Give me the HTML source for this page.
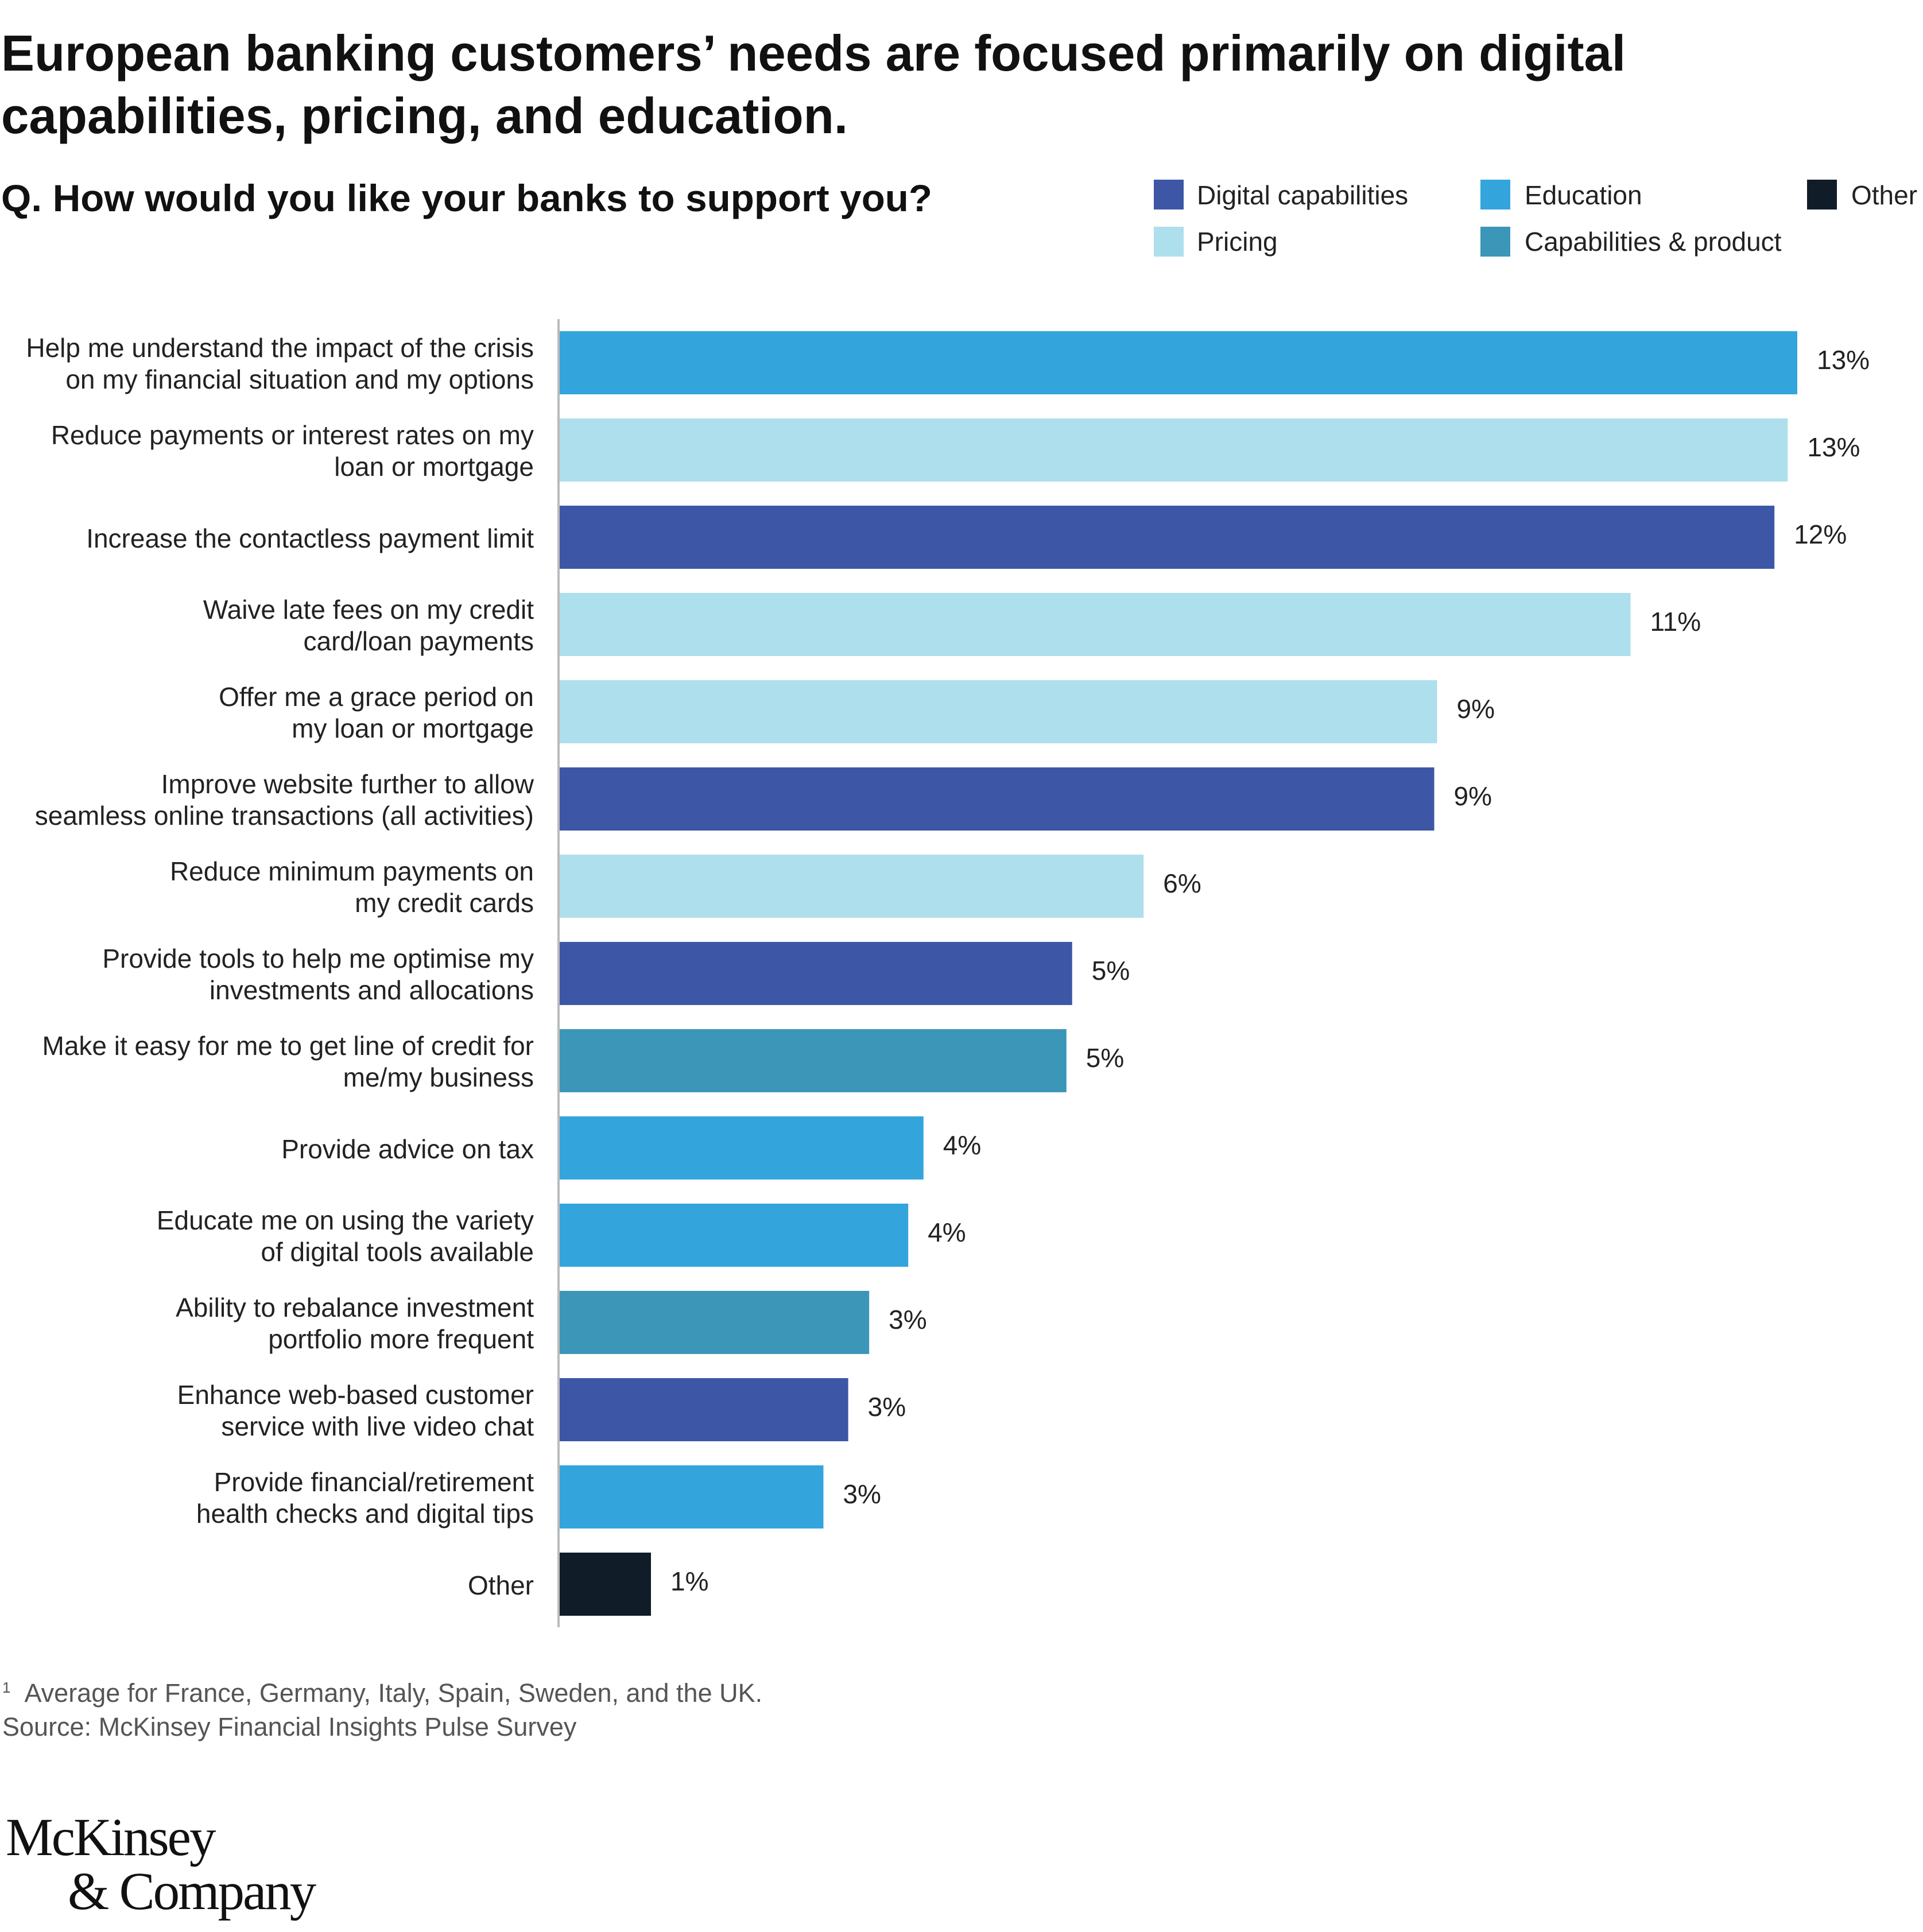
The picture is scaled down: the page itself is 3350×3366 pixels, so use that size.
<!DOCTYPE html>
<html><head><meta charset="utf-8"><style>
html,body{margin:0;padding:0;background:#fff;}
svg{display:block;font-family:"Liberation Sans",sans-serif;}
</style></head><body>
<svg id="chart" width="3350" height="3366" viewBox="0 0 3350 3366" xmlns="http://www.w3.org/2000/svg">
<text x="2" y="123" font-size="88" font-weight="bold" fill="#111" textLength="2830" lengthAdjust="spacingAndGlyphs">European banking customers’ needs are focused primarily on digital</text>
<text x="2" y="232" font-size="88" font-weight="bold" fill="#111" textLength="1475" lengthAdjust="spacingAndGlyphs">capabilities, pricing, and education.</text>
<text x="2" y="368" font-size="66" font-weight="bold" fill="#111" textLength="1622" lengthAdjust="spacingAndGlyphs">Q. How would you like your banks to support you?</text>
<g font-size="46" fill="#222">
<g><rect x="2010" y="313" width="52" height="52" fill="#3d57a6"/><text x="2085" y="356">Digital capabilities</text></g>
<g><rect x="2579" y="313" width="52" height="52" fill="#33a5dc"/><text x="2656" y="356">Education</text></g>
<g><rect x="3148" y="313" width="52" height="52" fill="#111c29"/><text x="3225" y="356">Other</text></g>
<g><rect x="2010" y="395" width="52" height="52" fill="#aedfed"/><text x="2085" y="437">Pricing</text></g>
<g><rect x="2579" y="395" width="52" height="52" fill="#3b96b8"/><text x="2656" y="437">Capabilities &amp; product</text></g>
</g>
<g id="bars"></g>
<line x1="973" y1="556" x2="973" y2="2835" stroke="#bbb" stroke-width="4"/>
<text x="4" y="2965" font-size="45" fill="#555"><tspan font-size="26" dy="-16">1</tspan><tspan dx="24" dy="16">Average for France, Germany, Italy, Spain, Sweden, and the UK.</tspan></text>
<text x="4" y="3024" font-size="45" fill="#555">Source: McKinsey Financial Insights Pulse Survey</text>
<text x="10" y="3232" font-family="Liberation Serif, serif" font-size="93" fill="#111" letter-spacing="-3">McKinsey</text>
<text x="118" y="3326" font-family="Liberation Serif, serif" font-size="93" fill="#111" letter-spacing="-3">&amp; Company</text>
</svg>
<script>
const categories = [
 ["Help me understand the impact of the crisis","on my financial situation and my options"],
 ["Reduce payments or interest rates on my","loan or mortgage"],
 ["Increase the contactless payment limit"],
 ["Waive late fees on my credit","card/loan payments"],
 ["Offer me a grace period on","my loan or mortgage"],
 ["Improve website further to allow","seamless online transactions (all activities)"],
 ["Reduce minimum payments on","my credit cards"],
 ["Provide tools to help me optimise my","investments and allocations"],
 ["Make it easy for me to get line of credit for","me/my business"],
 ["Provide advice on tax"],
 ["Educate me on using the variety","of digital tools available"],
 ["Ability to rebalance investment","portfolio more frequent"],
 ["Enhance web-based customer","service with live video chat"],
 ["Provide financial/retirement","health checks and digital tips"],
 ["Other"]
];
const values = [13.0, 12.9, 12.76, 11.25, 9.22, 9.19, 6.14, 5.39, 5.33, 3.83, 3.67, 3.26, 3.04, 2.78, 0.97];
const valueLabels = ["13%","13%","12%","11%","9%","9%","6%","5%","5%","4%","4%","3%","3%","3%","1%"];
const groups = ["education","pricing","digital","pricing","pricing","digital","pricing","digital","capabilities","education","education","capabilities","digital","education","other"];
const groupColors = {digital:"#3d57a6",pricing:"#aedfed",education:"#33a5dc",capabilities:"#3b96b8",other:"#111c29"};
const NS="http://www.w3.org/2000/svg";
const x0=973, pxPerUnit=166, top0=577, pitch=152.0, barH=110;
function xScale(v){return x0+v*pxPerUnit;}
function yScale(i){return top0+i*pitch;}
const g=document.getElementById('bars');
values.forEach((v,i)=>{
  const y=yScale(i), cy=y+barH/2;
  const r=document.createElementNS(NS,'rect');
  
  
  r.setAttribute('x',x0);r.setAttribute('y',y);
  r.setAttribute('width',xScale(v)-x0);r.setAttribute('height',barH);
  r.setAttribute('fill',groupColors[groups[i]]);
  g.appendChild(r);
  const t=document.createElementNS(NS,'text');
  
  
  t.setAttribute('x',xScale(v)+34);t.setAttribute('y',cy+11);
  t.setAttribute('font-size','46');t.setAttribute('fill','#222');
  t.textContent=valueLabels[i];
  g.appendChild(t);
  const lines=categories[i];
  lines.forEach((ln,j)=>{
    const c=document.createElementNS(NS,'text');
    
    
    c.setAttribute('x',930);
    const by = lines.length===1 ? cy+18 : cy-10+j*55;
    c.setAttribute('y',by);
    c.setAttribute('text-anchor','end');
    c.setAttribute('font-size','46');c.setAttribute('fill','#222');
    c.textContent=ln;
    g.appendChild(c);
  });
});
</script>
</body></html>
